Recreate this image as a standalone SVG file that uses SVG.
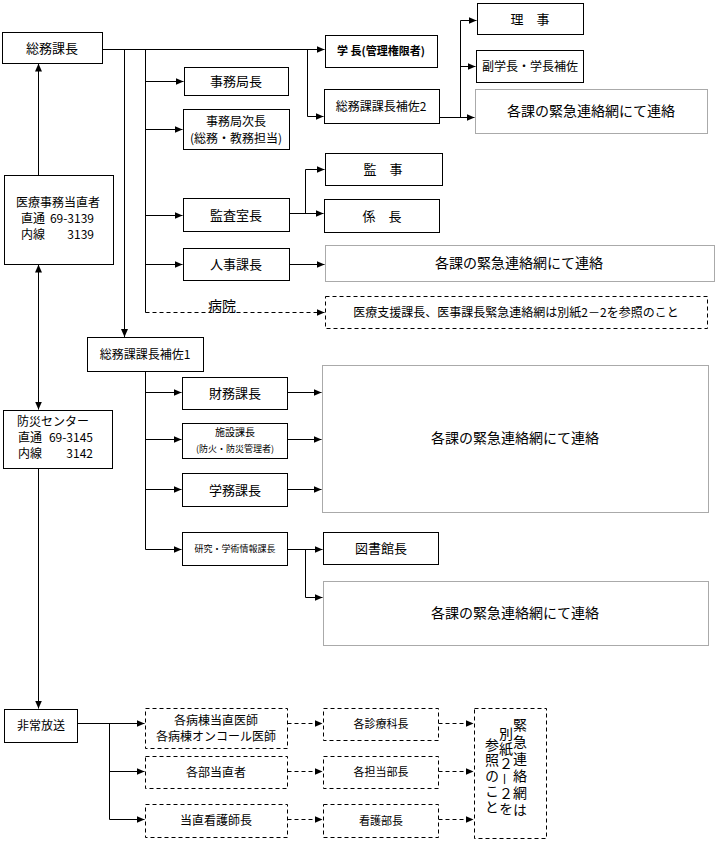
<svg xmlns="http://www.w3.org/2000/svg" width="716" height="841" viewBox="0 0 716 841">
<defs>
<marker id="ar" viewBox="0 0 8 7" refX="8" refY="3.5" markerWidth="8" markerHeight="7" markerUnits="userSpaceOnUse" orient="auto-start-reverse">
<path d="M0,0 L8,3.5 L0,7 z" fill="#000"/>
</marker>
</defs>
<style>
text{font-family:"Noto Sans CJK JP","Noto Sans CJK SC",sans-serif;fill:#000;}
.c{text-anchor:middle;}
.b{fill:#fff;stroke:#000;stroke-width:1;}
.d{fill:#fff;stroke:#000;stroke-width:1;stroke-dasharray:4 3;}
.n{fill:#fff;stroke:#555;stroke-width:1;stroke-dasharray:1 1;}
.ln{fill:none;stroke:#000;stroke-width:1;}
.a{fill:none;stroke:#000;stroke-width:1;marker-end:url(#ar);}
.da{fill:none;stroke:#000;stroke-width:1;stroke-dasharray:4 3;marker-end:url(#ar);}
.f13{font-size:13px;}
.f12{font-size:12px;}
.f14{font-size:14px;}
.v{writing-mode:vertical-rl;}
</style>
<rect width="716" height="841" fill="#fff"/>

<g id="connectors">
<path class="a" d="M102.5,49.5 H324.5"/>
<path class="a" d="M307.5,49.5 V116.5 H323.5"/>
<path class="a" d="M124.5,49.5 V337"/>
<path class="ln" d="M145.5,49.5 V312.5"/>
<path class="a" d="M145.5,81.5 H183.5"/>
<path class="a" d="M145.5,129.5 H182.5"/>
<path class="a" d="M145.5,215.5 H182.5"/>
<path class="a" d="M145.5,264.5 H182.5"/>
<path class="da" d="M145.5,312.5 H324.5"/>
<path class="a" d="M289.5,213.5 H323.5"/>
<path class="a" d="M305.5,213.5 V169.5 H324.5"/>
<path class="a" d="M289.5,264.5 H324.5"/>
<path class="a" d="M439.5,117.5 H474.5"/>
<path class="a" d="M460.5,117.5 V20.5 H476.5"/>
<path class="a" d="M460.5,66.5 H475.5"/>
<path class="a" d="M38.5,175 V63.5"/>
<path class="a" style="marker-start:url(#ar)" d="M38.5,264.5 V409.5"/>
<path class="a" d="M38.5,468.5 V708.5"/>
<path class="ln" d="M145.5,371.5 V549.5"/>
<path class="a" d="M145.5,392.5 H181.5"/>
<path class="a" d="M145.5,439.5 H181.5"/>
<path class="a" d="M145.5,489.5 H181.5"/>
<path class="a" d="M145.5,549.5 H181.5"/>
<path class="a" d="M287.5,392.5 H321.5"/>
<path class="a" d="M287.5,439.5 H321.5"/>
<path class="a" d="M287.5,489.5 H321.5"/>
<path class="a" d="M287.5,549.5 H322.5"/>
<path class="a" d="M305.5,549.5 V597.5 H322.5"/>
<path class="a" d="M77.5,723.5 H144.5"/>
<path class="a" d="M109.5,723.5 V819.5 H144.5"/>
<path class="a" d="M109.5,771.5 H144.5"/>
<path class="da" d="M287.5,723.5 H322.5"/>
<path class="da" d="M287.5,771.5 H322.5"/>
<path class="da" d="M287.5,819.5 H322.5"/>
<path class="da" d="M438.5,723.5 H473.5"/>
<path class="da" d="M438.5,771.5 H473.5"/>
<path class="da" d="M438.5,819.5 H473.5"/>
</g>

<g id="n-soumu">
<rect class="b" x="2.5" y="32.5" width="100" height="31"/>
<text class="c f13" x="52" y="53">総務課長</text>
</g>
<g id="n-gakucho">
<rect class="b" x="325.5" y="35.5" width="112" height="32"/>
<text class="c" x="381" y="55" font-size="11" font-weight="bold">学 長(管理権限者)</text>
</g>
<g id="n-jimukyokucho">
<rect class="b" x="184.5" y="67.5" width="104" height="28"/>
<text class="c f13" x="236" y="86">事務局長</text>
</g>
<g id="n-jimujicho">
<rect class="b" x="183.5" y="109.5" width="106" height="40"/>
<text class="c f12" x="236" y="126">事務局次長</text>
<text class="c f12" x="236" y="143">(総務・教務担当)</text>
</g>
<g id="n-hosa2">
<rect class="b" x="324.5" y="89.5" width="115" height="34"/>
<text class="c f12" x="381" y="111">総務課課長補佐2</text>
</g>
<g id="n-riji">
<rect class="b" x="477.5" y="3.5" width="106" height="31"/>
<text class="c f13" x="530" y="24">理　事</text>
</g>
<g id="n-fukugakucho">
<rect class="b" x="476.5" y="50.5" width="107" height="32"/>
<text class="c f12" x="530" y="71">副学長・学長補佐</text>
</g>
<g id="n-renraku1">
<rect class="n" x="475.5" y="89.5" width="232" height="44"/>
<text class="c f14" x="591" y="116">各課の緊急連絡網にて連絡</text>
</g>
<g id="n-kanji">
<rect class="b" x="325.5" y="153.5" width="117" height="32"/>
<text class="c f13" x="383" y="174">監　事</text>
</g>
<g id="n-kakaricho">
<rect class="b" x="324.5" y="199.5" width="115" height="33"/>
<text class="c f13" x="382" y="221">係　長</text>
</g>
<g id="n-kansa">
<rect class="b" x="183.5" y="198.5" width="106" height="33"/>
<text class="c f13" x="236" y="220">監査室長</text>
</g>
<g id="n-jinji">
<rect class="b" x="183.5" y="248.5" width="106" height="32"/>
<text class="c f13" x="236" y="269">人事課長</text>
</g>
<g id="n-renraku2">
<rect class="n" x="325.5" y="245.5" width="389" height="36"/>
<text class="c f14" x="519" y="268">各課の緊急連絡網にて連絡</text>
</g>
<g id="n-byoin">
<text class="f14" x="208" y="311">病院</text>
</g>
<g id="n-iryoshien">
<rect class="d" x="325.5" y="296.5" width="382" height="32"/>
<text class="c f12" x="516" y="317">医療支援課長、医事課長緊急連絡網は別紙2－2を参照のこと</text>
</g>
<g id="n-iryojimu">
<rect class="b" x="4.5" y="175.5" width="109" height="89"/>
<text class="c f12" x="58" y="207">医療事務当直者</text>
<text class="f12" y="223"><tspan x="21">直通</tspan><tspan x="94" text-anchor="end">69-3139</tspan></text>
<text class="f12" y="239"><tspan x="21">内線</tspan><tspan x="94" text-anchor="end">3139</tspan></text>
</g>
<g id="n-hosa1">
<rect class="b" x="87.5" y="337.5" width="116" height="34"/>
<text class="c f12" x="145" y="359">総務課課長補佐1</text>
</g>
<g id="n-zaimu">
<rect class="b" x="182.5" y="377.5" width="105" height="32"/>
<text class="c f13" x="235" y="398">財務課長</text>
</g>
<g id="n-shisetsu">
<rect class="b" x="182.5" y="423.5" width="105" height="35"/>
<text class="c" font-size="10" x="235" y="436">施設課長</text>
<text class="c" font-size="9" x="235" y="452">(防火・防災管理者)</text>
</g>
<g id="n-gakumu">
<rect class="b" x="182.5" y="473.5" width="105" height="33"/>
<text class="c f13" x="235" y="495">学務課長</text>
</g>
<g id="n-kenkyu">
<rect class="b" x="182.5" y="532.5" width="105" height="33"/>
<text class="c" font-size="9" x="235" y="552">研究・学術情報課長</text>
</g>
<g id="n-renraku3">
<rect class="n" x="322.5" y="365.5" width="386" height="147"/>
<text class="c f14" x="515" y="443">各課の緊急連絡網にて連絡</text>
</g>
<g id="n-toshokan">
<rect class="b" x="323.5" y="532.5" width="115" height="32"/>
<text class="c f13" x="381" y="553">図書館長</text>
</g>
<g id="n-renraku4">
<rect class="n" x="323.5" y="581.5" width="385" height="64"/>
<text class="c f14" x="515" y="618">各課の緊急連絡網にて連絡</text>
</g>
<g id="n-bosai">
<rect class="b" x="3.5" y="410.5" width="109" height="58"/>
<text class="c f12" x="53" y="426">防災センター</text>
<text class="f12" y="442"><tspan x="18">直通</tspan><tspan x="93" text-anchor="end">69-3145</tspan></text>
<text class="f12" y="458"><tspan x="18">内線</tspan><tspan x="93" text-anchor="end">3142</tspan></text>
</g>
<g id="n-hijo">
<rect class="b" x="4.5" y="709.5" width="73" height="33"/>
<text class="c f12" x="41" y="730">非常放送</text>
</g>
<g id="n-byoto">
<rect class="d" x="145.5" y="708.5" width="142" height="40"/>
<text class="c f12" x="216" y="725">各病棟当直医師</text>
<text class="c f12" x="216" y="741">各病棟オンコール医師</text>
</g>
<g id="n-kakubu">
<rect class="d" x="145.5" y="756.5" width="142" height="32"/>
<text class="c f12" x="216" y="777">各部当直者</text>
</g>
<g id="n-kango">
<rect class="d" x="145.5" y="804.5" width="142" height="33"/>
<text class="c f12" x="216" y="825">当直看護師長</text>
</g>
<g id="n-shinryo">
<rect class="d" x="323.5" y="708.5" width="115" height="32"/>
<text class="c" font-size="11" x="381" y="728">各診療科長</text>
</g>
<g id="n-tanto">
<rect class="d" x="323.5" y="756.5" width="115" height="32"/>
<text class="c" font-size="11" x="381" y="776">各担当部長</text>
</g>
<g id="n-kangobu">
<rect class="d" x="323.5" y="804.5" width="115" height="33"/>
<text class="c" font-size="11" x="381" y="825">看護部長</text>
</g>
<g id="n-besshi">
<rect class="d" x="474.5" y="708.5" width="72" height="130"/>
<text class="c f14 v" x="520" y="769" letter-spacing="3">緊急連絡網は</text>
<text class="c f14 v" x="506" y="772" letter-spacing="1">別紙２－２を</text>
<text class="c f14 v" x="492" y="776" letter-spacing="1.5">参照のこと</text>
</g>
</svg>
